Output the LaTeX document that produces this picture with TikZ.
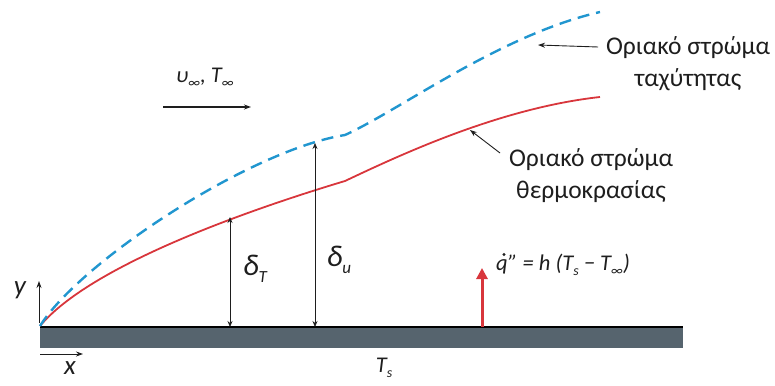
\documentclass[tikz,border=0pt]{standalone}
\usepackage{fontspec}
\setmainfont{Carlito}
\usetikzlibrary{arrows.meta}
\definecolor{platec}{HTML}{56646E}
\definecolor{redc}{HTML}{D8363C}
\definecolor{bluec}{HTML}{2196CF}
\definecolor{txt}{HTML}{1E1E1E}
\newcommand{\sbx}[1]{\raisebox{-0.5ex}{\fontsize{14}{15}\selectfont #1}}
\newcommand{\sbd}[1]{\raisebox{-0.5ex}{\fontsize{17}{18}\selectfont #1}}
\tikzset{
  lab/.style={text=txt, font=\fontsize{25.5}{32}\selectfont, align=center, inner sep=0pt},
  mlab/.style={text=txt, font=\fontsize{22.5}{24}\selectfont\itshape, inner sep=0pt},
  dimarr/.style={draw=txt, line width=0.8pt, {Stealth[length=6pt,width=5pt]}-{Stealth[length=6pt,width=5pt]}},
  onearr/.style={draw=txt, line width=0.9pt, -{Stealth[length=7pt,width=5pt]}},
  redline/.style={draw=redc, line width=1.8pt},
  blueline/.style={draw=bluec, line width=2.4pt, dash pattern=on 12pt off 7pt},
}
\begin{document}
\begin{tikzpicture}[x=1pt,y=-1pt]
\useasboundingbox (0,0) rectangle (775,385);
% plate
\fill[platec] (40,327) rectangle (683,348);
\draw[black, line width=1.3pt] (40,327) -- (683,327);
\coordinate (O) at (40,326);
% boundary layers
\coordinate (rk) at (345,181);
\coordinate (bk) at (345,135);
\draw[redline] (O) .. controls (90,266) and (245,211) .. (rk)
   .. controls (400,155) and (500,108) .. (600,97);
\draw[blueline] (O) .. controls (80,262) and (250,150) .. (bk)
   .. controls (400,110) and (500,35) .. (600,12);
% thickness arrows
\coordinate (dTt) at (230,217);
\coordinate (dTb) at (230,327);
\coordinate (dut) at (315,143);
\coordinate (dub) at (315,327);
\draw[dimarr] (dTt) -- (dTb);
\draw[dimarr] (dut) -- (dub);
\node[mlab, font=\fontsize{30}{32}\selectfont\itshape] (dT) at (255,269) {δ\sbd{T}};
\node[mlab, font=\fontsize{30}{32}\selectfont\itshape] (du) at (339,260) {δ\sbd{u}};
% axes
\coordinate (ya) at (39,281);
\coordinate (xa) at (83,354);
\coordinate (yb) at (39,323);
\coordinate (xb) at (40,354);
\draw[onearr] (yb) -- (ya);
\draw[onearr] (xb) -- (xa);
\node[mlab, font=\fontsize{27}{28}\selectfont\itshape] (ylab) at (20,290) {y};
\node[mlab, font=\fontsize{27}{28}\selectfont\itshape] (xlab) at (70,368) {x};
\node[mlab] (Ts) at (384,368) {T\sbx{s}};
% free stream
\coordinate (fa) at (163,107);
\coordinate (fb) at (251,107);
\draw[onearr, line width=1.2pt] (fa) -- (fb);
\node[mlab] (uinf) at (205,78) {υ\sbx{∞}, T\sbx{∞}};
% heat flux
\coordinate (qa) at (482,327);
\coordinate (qb) at (482,268);
\draw[draw=redc, line width=3pt, -{Triangle[length=11pt,width=11pt]}] (qa) -- (qb);
\node[mlab, anchor=base west] (qq) at (496,270) {q};
\fill[txt] ([xshift=2pt,yshift=4.5pt]qq.north) circle (1.6pt);
\node[mlab, anchor=base west] (q) at (qq.base east) {" = h (T\sbx{s} − T\sbx{∞})};
% labels
\node[lab] (L1) at (688,64) {Οριακό στρώμα\\ταχύτητας};
\node[lab] (L2) at (591,176) {Οριακό στρώμα\\θερμοκρασίας};
\coordinate (p1s) at (598,47);
\coordinate (p1e) at (538,45);
\coordinate (p2s) at (500,153);
\coordinate (p2e) at (470,130);
\draw[onearr] (p1s) -- (p1e);
\draw[onearr] (p2s) -- (p2e);
\end{tikzpicture}
\end{document}
